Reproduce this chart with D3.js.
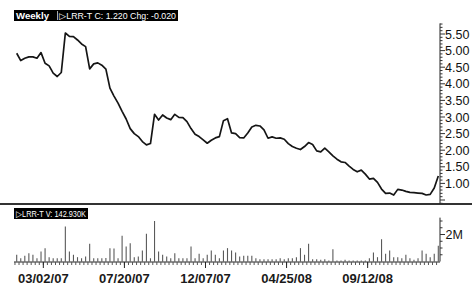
<!DOCTYPE html>
<html lang="en">
<head>
<script src="https://d3js.org/d3.v7.min.js"></script>
<style>
  body { margin: 0; background: #fff; }
  svg text { font-family: Arial, "Liberation Sans", sans-serif; }
</style>
</head>
<body>
<script>
var width = 472, height = 286;

// weekly closes, one per week from 2007-01-15
var prices = [4.92, 4.70, 4.77, 4.81, 4.81, 4.77, 4.94, 4.62, 4.54, 4.32,
  4.22, 4.34, 5.53, 5.43, 5.42, 5.32, 5.20, 5.12, 4.45, 4.60,
  4.63, 4.56, 4.44, 3.87, 3.63, 3.42, 3.17, 2.94, 2.65, 2.50,
  2.41, 2.26, 2.16, 2.20, 3.08, 2.91, 3.06, 2.97, 2.92, 3.08,
  2.99, 2.98, 2.86, 2.65, 2.48, 2.41, 2.31, 2.21, 2.30, 2.37,
  2.41, 2.89, 2.95, 2.52, 2.50, 2.38, 2.37, 2.52, 2.70, 2.75,
  2.73, 2.61, 2.36, 2.40, 2.36, 2.37, 2.33, 2.20, 2.11, 2.06,
  2.02, 2.11, 2.23, 2.17, 1.98, 1.95, 2.06, 1.95, 1.83, 1.73,
  1.65, 1.63, 1.52, 1.42, 1.35, 1.40, 1.28, 1.13, 1.15, 1.03,
  0.83, 0.70, 0.71, 0.65, 0.82, 0.80, 0.76, 0.73, 0.72, 0.71,
  0.70, 0.65, 0.67, 0.86, 1.22];

// weekly volume, millions of shares
var volumes = [0.50, 0.24, 0.42, 0.61, 0.50, 0.24, 0.74, 0.99, 0.32, 0.24,
  0.24, 0.24, 2.60, 0.74, 0.50, 0.32, 0.24, 0.37, 1.31, 0.24,
  0.24, 0.24, 0.26, 0.99, 0.97, 0.24, 1.90, 1.11, 1.36, 0.32,
  0.37, 0.81, 2.05, 0.24, 3.00, 0.74, 0.50, 0.37, 0.24, 0.61,
  0.24, 0.24, 0.24, 1.11, 0.24, 0.57, 0.24, 0.50, 0.81, 0.50,
  0.24, 0.81, 0.99, 0.81, 0.67, 0.37, 0.42, 0.42, 0.42, 0.24,
  0.17, 0.17, 0.17, 0.17, 0.17, 0.24, 0.17, 0.24, 0.24, 0.32,
  0.99, 0.50, 1.31, 0.17, 0.17, 0.13, 0.17, 0.07, 0.91, 0.07,
  0.07, 0.13, 0.07, 0.07, 0.07, 0.07, 0.07, 0.24, 0.67, 0.32,
  1.65, 0.57, 0.81, 0.32, 0.32, 0.24, 0.50, 0.24, 0.13, 0.24,
  0.81, 0.57, 0.32, 0.57, 1.16];

var dateLabels = ['03/02/07', '07/20/07', '12/07/07', '04/25/08', '09/12/08'];
var priceTicks = [1.00, 1.50, 2.00, 2.50, 3.00, 3.50, 4.00, 4.50, 5.00, 5.50];
var volTicks = [2];

var weeks = d3.timeMonday.range(new Date(2007, 0, 15), new Date(2009, 0, 13));
var parseLabel = d3.timeParse('%m/%d/%y');

var svg = d3.select('body').append('svg')
  .attr('width', width)
  .attr('height', height);

var axisX = 440;

var x = d3.scaleTime()
  .domain([weeks[0], weeks[weeks.length - 1]])
  .range([16.7, 438.3]);

var y = d3.scaleLinear().domain([0.5, 5.5]).range([200, 34]);
var yVol = d3.scaleLinear().domain([0, 2]).range([261.5, 234.5]);

// header bars (text squeezed to fit like the original)
function header(yTop, w, bold, rest) {
  svg.append('rect').attr('x', 14).attr('y', yTop).attr('width', w).attr('height', 11).attr('fill', '#000');
  var x0 = 16;
  if (bold) {
    svg.append('text').attr('x', x0).attr('y', yTop + 8.8)
      .attr('fill', '#fff').attr('font-size', 9).attr('font-weight', 'bold')
      .attr('textLength', 33).attr('lengthAdjust', 'spacingAndGlyphs')
      .text(bold);
    svg.append('line').attr('x1', 57.5).attr('x2', 57.5)
      .attr('y1', yTop + 1).attr('y2', yTop + 10).attr('stroke', '#aaa');
    x0 = 59;
  }
  svg.append('text').attr('x', x0).attr('y', yTop + 8.8)
    .attr('fill', '#fff').attr('font-size', 8.5)
    .attr('textLength', 14 + w - x0 - 2).attr('lengthAdjust', 'spacingAndGlyphs')
    .text(rest);
}
header(10, 164, 'Weekly', '\u25B7LRR-T  C: 1.220  Chg: -0.020');
header(208, 74, null, '\u25B7LRR-T  V: 142.930K');

// separator between panels
svg.append('line')
  .attr('x1', 0).attr('x2', width)
  .attr('y1', 204).attr('y2', 204)
  .attr('stroke', '#333').attr('stroke-width', 2);

// price axis (right)
svg.append('line').attr('x1', axisX).attr('x2', axisX)
  .attr('y1', y(5.82)).attr('y2', 204).attr('stroke', '#222');
svg.append('g').selectAll('line')
  .data(d3.range(4, 59).map(function(d) { return d / 10; }))
  .join('line')
  .attr('x1', axisX).attr('x2', function(d) { return Math.abs(d * 2 - Math.round(d * 2)) < 1e-6 ? axisX + 5 : axisX + 2.5; })
  .attr('y1', function(d) { return y(d); }).attr('y2', function(d) { return y(d); })
  .attr('stroke', '#333');
svg.append('g').selectAll('text')
  .data(priceTicks)
  .join('text')
  .attr('x', axisX + 5)
  .attr('y', function(d) { return y(d) + 4.5; })
  .attr('font-size', 12.5)
  .attr('fill', '#111')
  .text(function(d) { return d.toFixed(2); });

// price line
svg.append('path')
  .datum(prices)
  .attr('fill', 'none')
  .attr('stroke', '#151515')
  .attr('stroke-width', 1.7)
  .attr('stroke-linejoin', 'round')
  .attr('d', d3.line()
    .x(function(d, i) { return x(weeks[i]); })
    .y(function(d) { return y(d); }));

// volume bars
svg.append('g').selectAll('line')
  .data(volumes)
  .join('line')
  .attr('x1', function(d, i) { return x(weeks[i]); })
  .attr('x2', function(d, i) { return x(weeks[i]); })
  .attr('y1', yVol(0))
  .attr('y2', function(d) { return yVol(d); })
  .attr('stroke', '#5a5a5a')
  .attr('stroke-width', 1.1);

// volume axis
svg.append('line').attr('x1', axisX).attr('x2', axisX)
  .attr('y1', yVol(3.25)).attr('y2', yVol(0)).attr('stroke', '#222');
svg.append('g').selectAll('line')
  .data(d3.range(1, 7).map(function(d) { return d / 2; }))
  .join('line')
  .attr('x1', axisX).attr('x2', function(d) { return volTicks.indexOf(d) >= 0 ? axisX + 5 : axisX + 2.5; })
  .attr('y1', function(d) { return yVol(d); }).attr('y2', function(d) { return yVol(d); })
  .attr('stroke', '#333');
svg.append('g').selectAll('text')
  .data(volTicks)
  .join('text')
  .attr('x', axisX + 5.5)
  .attr('y', function(d) { return yVol(d) + 4.5; })
  .attr('font-size', 12.5)
  .attr('fill', '#111')
  .text(function(d) { return d + 'M'; });

// time axis
svg.append('line').attr('x1', 14).attr('x2', axisX)
  .attr('y1', 262).attr('y2', 262).attr('stroke', '#222');
svg.append('g').selectAll('line')
  .data(d3.timeFriday.range(new Date(2007, 0, 12), new Date(2009, 0, 16)))
  .join('line')
  .attr('x1', function(d) { return x(d); }).attr('x2', function(d) { return x(d); })
  .attr('y1', 262).attr('y2', 265)
  .attr('stroke', '#555');
var labelDates = dateLabels.map(parseLabel);
svg.append('g').selectAll('line')
  .data(labelDates)
  .join('line')
  .attr('x1', function(d) { return x(d); }).attr('x2', function(d) { return x(d); })
  .attr('y1', 262).attr('y2', 268)
  .attr('stroke', '#222');
svg.append('g').selectAll('text')
  .data(dateLabels)
  .join('text')
  .attr('x', function(d) { return x(parseLabel(d)); })
  .attr('y', 283)
  .attr('text-anchor', 'middle')
  .attr('font-size', 13)
  .attr('font-weight', 'bold')
  .attr('fill', '#1a1a1a')
  .text(function(d) { return d; });
</script>
</body>
</html>
